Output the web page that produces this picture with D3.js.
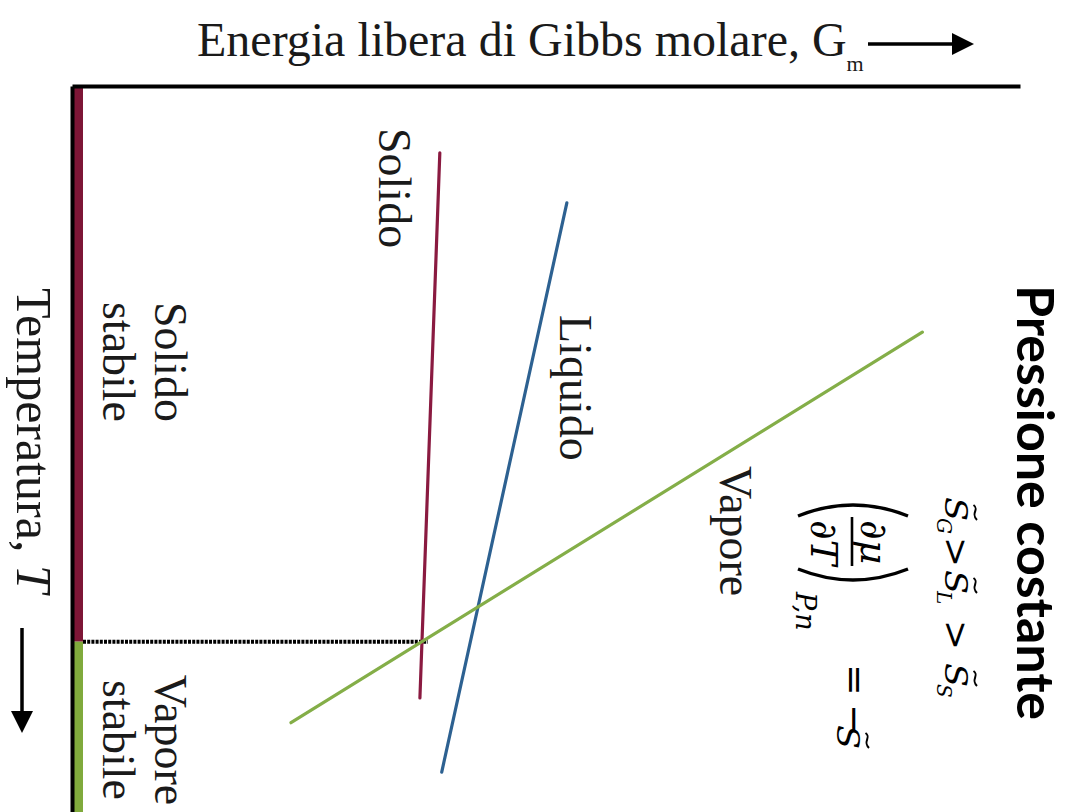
<!DOCTYPE html>
<html>
<head>
<meta charset="utf-8">
<script src="https://cdn.jsdelivr.net/npm/d3@7"></script>
<style>
  html, body { margin: 0; padding: 0; background: #ffffff; }
  svg { display: block; }
</style>
</head>
<body>
<svg id="chart" width="1068" height="812"></svg>
<script>
// Molar Gibbs energy of each phase versus temperature at constant pressure.
// Temperature grows downward, G_m grows to the right (arbitrary units 0-100).
const phaseNames = ["Solido", "Liquido", "Vapore"];
const solidoT  = [9.2, 84.3];
const solidoG  = [38.8, 36.7];
const liquidoT = [16.1, 94.5];
const liquidoG = [52.2, 39.0];
const vaporeT  = [33.9, 87.7];
const vaporeG  = [89.7, 23.1];
const phaseColors = ["#8a1a40", "#2d6191", "#84ae48"];
const stableColors = ["#7d1636", "#80aa3c"];

const W = 1068, H = 812;
const svg = d3.select("#chart");

const x = d3.scaleLinear().domain([0, 100]).range([72, 1020]); // G_m
const y = d3.scaleLinear().domain([0, 100]).range([86, 812]);  // T

const phases = [
  { name: phaseNames[0], T: solidoT,  G: solidoG,  color: phaseColors[0] },
  { name: phaseNames[1], T: liquidoT, G: liquidoG, color: phaseColors[1] },
  { name: phaseNames[2], T: vaporeT,  G: vaporeG,  color: phaseColors[2] }
];

// Straight line G = m*T + b through the two end points of a phase
function lineFit(p) {
  const m = (p.G[1] - p.G[0]) / (p.T[1] - p.T[0]);
  return { m, b: p.G[0] - m * p.T[0] };
}
const ls = lineFit(phases[0]), lv = lineFit(phases[2]);
const tSub = (lv.b - ls.b) / (ls.m - lv.m);   // solid-vapour transition temperature
const gSub = ls.m * tSub + ls.b;

// Stability bar along the temperature axis
const stableRanges = [[0, tSub], [tSub, 100]];
svg.append("g").selectAll("rect")
  .data(stableRanges)
  .join("rect")
  .attr("x", 74)
  .attr("width", 9)
  .attr("y", d => y(d[0]))
  .attr("height", d => y(d[1]) - y(d[0]))
  .attr("fill", (d, i) => stableColors[i]);

// Axes (frame only, no ticks)
const axTop = svg.append("g")
  .attr("transform", `translate(0,${y(0)})`)
  .call(d3.axisTop(x).tickValues([]).tickSizeOuter(0));
const axLeft = svg.append("g")
  .attr("transform", `translate(${x(0)},0)`)
  .call(d3.axisLeft(y).tickValues([]).tickSizeOuter(0));
[axTop, axLeft].forEach(a => a.select(".domain").attr("stroke", "#000").attr("stroke-width", 4));

// Dotted line marking the transition temperature
svg.append("line")
  .attr("x1", x(0) + 11).attr("x2", x(gSub) + 6)
  .attr("y1", y(tSub)).attr("y2", y(tSub))
  .attr("stroke", "#000").attr("stroke-width", 4)
  .attr("stroke-dasharray", "3,1.2");

// Phase lines
const line = d3.line().x(d => x(d[1])).y(d => y(d[0]));
svg.append("g").selectAll("path")
  .data(phases)
  .join("path")
  .attr("d", p => line(p.T.map((t, i) => [t, p.G[i]])))
  .attr("fill", "none")
  .attr("stroke", p => p.color)
  .attr("stroke-width", 3.2)
  .attr("stroke-linecap", "round");

// Horizontal axis title with arrow
const serif = "'Liberation Serif', 'Times New Roman', serif";
const title = svg.append("text")
  .attr("x", 197).attr("y", 56)
  .attr("font-family", serif).attr("font-size", 48).attr("fill", "#1a1a1a")
  .text("Energia libera di Gibbs molare, G");
title.append("tspan").attr("dy", 15).attr("font-size", 22).text("m");

svg.append("line").attr("x1", 868).attr("x2", 956).attr("y1", 44).attr("y2", 44)
  .attr("stroke", "#000").attr("stroke-width", 3.5);
svg.append("path").attr("d", "M974,44 L952,33 L952,55 Z").attr("fill", "#000");

// Temperature arrow
svg.append("line").attr("x1", 22).attr("x2", 22).attr("y1", 628).attr("y2", 715)
  .attr("stroke", "#000").attr("stroke-width", 3.5);
svg.append("path").attr("d", "M22,733 L11,711 L33,711 Z").attr("fill", "#000");

// Vertical texts: drawn in a layer turned 90 degrees clockwise.
// Local coordinates: lx = page y, ly = W - page x.
const rot = svg.append("g").attr("transform", `translate(${W},0) rotate(90)`);
function txt(px, py, str, opts = {}) {
  const t = rot.append("text")
    .attr("x", py).attr("y", W - px)
    .attr("font-family", opts.family || serif)
    .attr("font-size", opts.size || 46)
    .attr("font-style", opts.style || "normal")
    .attr("font-weight", opts.weight || "normal")
    .attr("text-anchor", opts.anchor || "start")
    .attr("fill", opts.fill || "#1a1a1a")
    .text(str);
  return t;
}

// Phase names next to their lines
txt(379, 128, phases[0].name);
txt(560, 315, phases[1].name);
txt(720, 466, phases[2].name);

// Stable-phase regions
txt(155, 362, "Solido", { anchor: "middle" });
txt(103, 362, "stabile", { anchor: "middle" });
txt(155, 740, "Vapore", { anchor: "middle" });
txt(103, 740, "stabile", { anchor: "middle" });

// Vertical axis title
const tt = txt(17, 288, "Temperatura, ", { size: 50 });
tt.append("tspan").attr("font-style", "italic").text("T");

// Heading
txt(1017, 285, "Pressione costante", { family: "Lato, 'Open Sans', sans-serif", size: 51, weight: "bold", fill: "#000" })
  .attr("textLength", 435).attr("lengthAdjust", "spacingAndGlyphs");

// Molar entropy symbol: italic S with a tilde drawn above it
const mathF = "'DejaVu Serif', serif";
function tilde(px, py, w) {
  // wave drawn in the rotated layer, centred across the glyph width
  const lx0 = py, ly0 = W - px;
  const d = `M${lx0},${ly0 + 1.5} C${lx0 + w * 0.3},${ly0 - 5} ${lx0 + w * 0.55},${ly0 + 5} ${lx0 + w},${ly0 - 2}`;
  rot.append("path").attr("d", d).attr("fill", "none").attr("stroke", "#000").attr("stroke-width", 2);
}
function sTilde(px, py, sub) {
  txt(px, py, "S", { family: mathF, size: 32, style: "italic", fill: "#000" })
    .attr("textLength", 24).attr("lengthAdjust", "spacingAndGlyphs");
  tilde(px + 30, py + 8, 15);
  if (sub) txt(px - 8, py + 21, sub, { family: mathF, size: 20, style: "italic", fill: "#000" });
}

// Entropy ordering: S~_G > S~_L > S~_S
sTilde(945, 497, "G");
txt(944, 537, ">", { family: mathF, size: 36, fill: "#000" });
sTilde(945, 570, "L");
txt(944, 620, ">", { family: mathF, size: 36, fill: "#000" });
sTilde(945, 663, "S");

// (dmu/dT)_{P,n} = -S~
txt(861, 520, "\u2202\u03BC", { family: mathF, size: 38, style: "italic", fill: "#000" });
txt(811, 520, "\u2202T", { family: mathF, size: 38, style: "italic", fill: "#000" });
rot.append("line").attr("x1", 517).attr("x2", 566).attr("y1", W - 852).attr("y2", W - 852)
  .attr("stroke", "#000").attr("stroke-width", 2.6);
// parentheses
const parL = `M${516},${W - 908} Q${494},${W - 853} ${516},${W - 798}`;
const parR = `M${569},${W - 908} Q${591},${W - 853} ${569},${W - 798}`;
rot.append("path").attr("d", parL).attr("fill", "none").attr("stroke", "#000").attr("stroke-width", 3.4);
rot.append("path").attr("d", parR).attr("fill", "none").attr("stroke", "#000").attr("stroke-width", 3.4);
txt(796, 592, "P,n", { family: mathF, size: 27, style: "italic", fill: "#000" });
txt(842, 664, "=", { family: mathF, size: 38, fill: "#000" });
txt(842, 704, "\u2212", { family: mathF, size: 38, fill: "#000" });
txt(837, 725, "S", { family: mathF, size: 32, style: "italic", fill: "#000" })
  .attr("textLength", 24).attr("lengthAdjust", "spacingAndGlyphs");
tilde(867, 733, 15);
</script>
</body>
</html>
